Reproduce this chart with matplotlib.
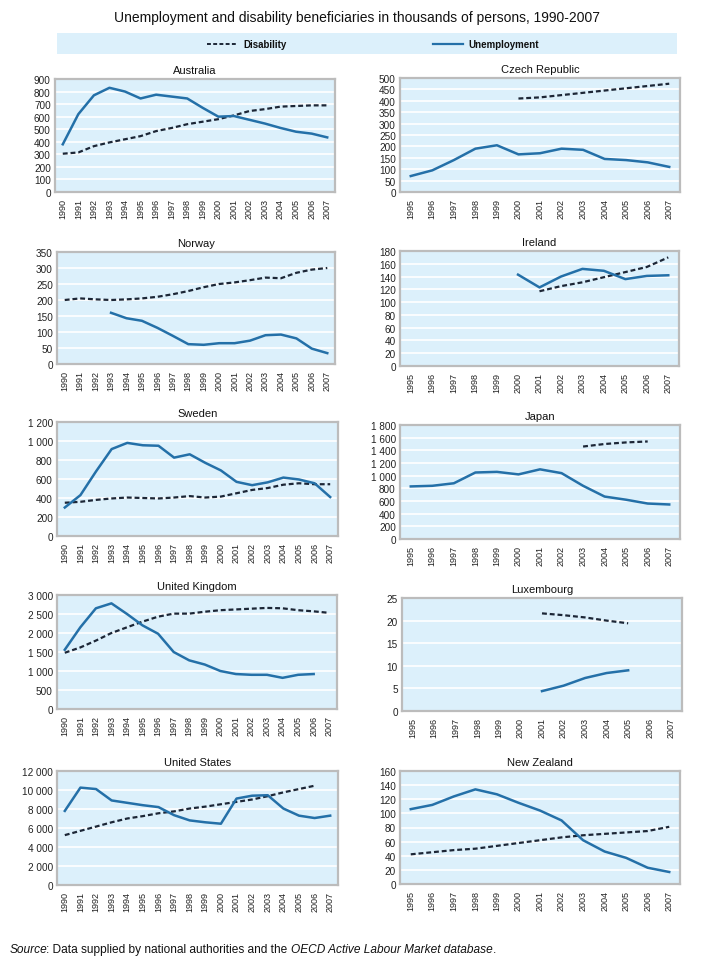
import numpy as np
import matplotlib
matplotlib.use("Agg")
import matplotlib.pyplot as plt
from matplotlib.ticker import FuncFormatter, MultipleLocator

plt.rcParams['font.family'] = ['Liberation Sans', 'DejaVu Sans']

nan = np.nan
years_long = list(range(1990, 2008))
years_short = list(range(1995, 2008))

# Australia
aus_unemp = [380, 620, 770, 830, 800, 745, 775, 760, 745, 670, 600, 605, 575, 545, 510, 480, 465, 435]
aus_disab = [305, 315, 365, 395, 420, 445, 485, 510, 540, 560, 580, 610, 645, 660, 680, 685, 690, 690]
# Czech Republic
cze_unemp = [70, 95, 140, 190, 205, 165, 170, 190, 185, 145, 140, 130, 110]
cze_disab = [nan, nan, nan, nan, nan, 410, 415, 425, 435, 445, 455, 465, 475]
# Norway
nor_unemp = [nan, nan, nan, 160, 143, 135, 113, 88, 62, 60, 65, 65, 73, 90, 92, 80, 48, 34]
nor_disab = [200, 205, 202, 200, 202, 205, 210, 218, 228, 240, 250, 255, 262, 270, 268, 285, 295, 300]
# Ireland
irl_unemp = [nan, nan, nan, nan, nan, 143, 123, 140, 152, 149, 136, 141, 142]
irl_disab = [nan, nan, nan, nan, nan, nan, 117, 125, 131, 139, 147, 155, 170]
# Sweden
swe_unemp = [300, 430, 680, 915, 980, 955, 950, 825, 860, 770, 690, 570, 535, 565, 615, 595, 555, 410]
swe_disab = [350, 360, 380, 395, 405, 400, 395, 405, 420, 405, 415, 450, 485, 505, 540, 555, 545, 545]
# Japan
jpn_unemp = [830, 840, 880, 1050, 1060, 1020, 1100, 1040, 840, 670, 620, 560, 545]
jpn_disab = [nan, nan, nan, nan, nan, nan, nan, nan, 1460, 1500, 1525, 1540, nan]
# United Kingdom
gbr_unemp = [1560, 2150, 2650, 2780, 2500, 2200, 1980, 1500, 1280, 1170, 1000, 920, 900, 900, 820, 900, 920, nan]
gbr_disab = [1480, 1620, 1800, 2000, 2150, 2300, 2430, 2510, 2510, 2560, 2600, 2620, 2640, 2660, 2650, 2600, 2570, 2530]
# Luxembourg
lux_unemp = [nan, nan, nan, nan, nan, nan, 4.4, 5.6, 7.3, 8.4, 9.0, nan, nan]
lux_disab = [nan, nan, nan, nan, nan, nan, 21.6, 21.2, 20.7, 20.0, 19.4, nan, nan]
# United States
usa_unemp = [7800, 10250, 10100, 8900, 8650, 8400, 8200, 7350, 6800, 6600, 6450, 9100, 9400, 9450, 8050, 7300, 7050, 7300]
usa_disab = [5250, 5700, 6150, 6600, 7000, 7250, 7550, 7750, 8050, 8250, 8500, 8750, 9000, 9350, 9750, 10100, 10450, nan]
# New Zealand
nzl_unemp = [106, 112, 124, 134, 127, 115, 104, 90, 62, 46, 37, 23, 17]
nzl_disab = [42, 45, 48, 50, 54, 58, 62, 66, 69, 71, 73, 75, 81]

panels = [
    ("Australia", years_long, aus_unemp, aus_disab, 900, 100, (55, 80, 335, 193)),
    ("Czech Republic", years_short, cze_unemp, cze_disab, 500, 50, (400, 79, 680, 193)),
    ("Norway", years_long, nor_unemp, nor_disab, 350, 50, (57, 253, 335, 365)),
    ("Ireland", years_short, irl_unemp, irl_disab, 180, 20, (400, 252, 679, 367)),
    ("Sweden", years_long, swe_unemp, swe_disab, 1200, 200, (57, 423, 338, 537)),
    ("Japan", years_short, jpn_unemp, jpn_disab, 1800, 200, (400, 426, 680, 540)),
    ("United Kingdom", years_long, gbr_unemp, gbr_disab, 3000, 500, (57, 596, 337, 710)),
    ("Luxembourg", years_short, lux_unemp, lux_disab, 25, 5, (402, 599, 682, 712)),
    ("United States", years_long, usa_unemp, usa_disab, 12000, 2000, (57, 772, 338, 886)),
    ("New Zealand", years_short, nzl_unemp, nzl_disab, 160, 20, (400, 772, 680, 885)),
]

W, H = 718, 978
fig = plt.figure(figsize=(W / 100, H / 100), dpi=100)
fig.patch.set_facecolor('white')

BG = '#dcf0fb'
FRAME = '#bcbcbc'
UNEMP = '#2470a8'
DISAB = '#1c2636'

def fmt(v, pos):
    v = int(round(v))
    return f"{v:,}".replace(",", " ")

for name, years, unemp, disab, ymax, ystep, (x0, y0, x1, y1) in panels:
    ax = fig.add_axes([x0 / W, 1 - y1 / H, (x1 - x0) / W, (y1 - y0) / H])
    ax.set_facecolor(BG)
    x = np.arange(len(years))
    ax.plot(x, disab, color=DISAB, lw=1.6, dashes=(2.2, 1.3), zorder=3)
    ax.plot(x, unemp, color=UNEMP, lw=1.8, zorder=4)
    ax.set_xlim(-0.5, len(years) - 0.5)
    ax.set_ylim(0, ymax)
    ax.yaxis.set_major_locator(MultipleLocator(ystep))
    ax.yaxis.set_major_formatter(FuncFormatter(fmt))
    ax.set_xticks(x)
    ax.set_xticklabels([str(y) for y in years], rotation=90, fontsize=6.5, color='#222222')
    ax.tick_params(axis='y', labelsize=7.2, colors='#222222', length=0, pad=3)
    ax.tick_params(axis='x', length=0, pad=4)
    ax.grid(axis='y', color='white', lw=1.2, zorder=1)
    ax.set_axisbelow(True)
    for sp in ax.spines.values():
        sp.set_color(FRAME)
        sp.set_linewidth(1.6)
    ax.set_title(name, fontsize=8, color='#111111', pad=4)

# Title
fig.text(357 / W, 1 - 18 / H, "Unemployment and disability beneficiaries in thousands of persons, 1990-2007",
         ha='center', va='center', fontsize=10, color='#111111')

# Legend band
lax = fig.add_axes([57 / W, 1 - 55 / H, (677 - 57) / W, (55 - 34) / H])
lax.set_facecolor(BG)
lax.set_xlim(57, 677)
lax.set_ylim(0, 1)
for sp in lax.spines.values():
    sp.set_visible(False)
lax.set_xticks([])
lax.set_yticks([])
lax.plot([207, 237], [0.5, 0.5], color=DISAB, lw=1.4, dashes=(2.0, 1.2))
lax.text(243, 0.5, "Disability", fontsize=7, fontweight='bold', va='center', ha='left', color='#111111')
lax.plot([433, 463], [0.5, 0.5], color=UNEMP, lw=1.6)
lax.text(468, 0.5, "Unemployment", fontsize=7, fontweight='bold', va='center', ha='left', color='#111111')

# Source
ys = 1 - 950 / H
t1 = fig.text(10 / W, ys, "Source", fontsize=8.6, style='italic', va='center', ha='left', color='#111111')
fig.canvas.draw()
r = fig.canvas.get_renderer()
def nxt(t, s, shift=0, **kw):
    bb = t.get_window_extent(renderer=r)
    return fig.text((bb.x1 + shift) / W, ys, s, fontsize=8.6, va='center', ha='left', color='#111111', **kw)
t2 = nxt(t1, ": Data supplied by national authorities and the ", shift=-1.5)
t3 = nxt(t2, "OECD Active Labour Market database", style='italic')
t4 = nxt(t3, ".")

fig.savefig("out.png", dpi=100)
